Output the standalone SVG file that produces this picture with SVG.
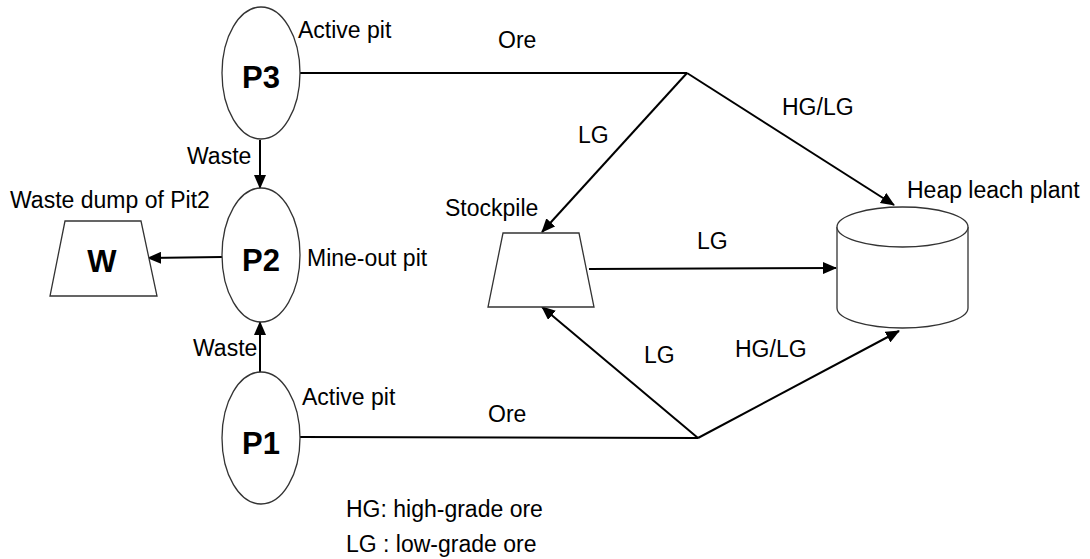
<svg xmlns="http://www.w3.org/2000/svg" width="1090" height="559" viewBox="0 0 1090 559">
<style>
text{font-family:"Liberation Sans",Arial,sans-serif;font-size:23px;fill:#000}
.big{font-size:31px;font-weight:bold;text-anchor:middle}
.shape{fill:#fff;stroke:#333;stroke-width:1.3}
.conn{stroke:#000;stroke-width:2;fill:none}
</style>
<defs>
<marker id="arr" markerUnits="userSpaceOnUse" markerWidth="14" markerHeight="12" refX="13" refY="6" orient="auto">
<path d="M0,0 L14,6 L0,12 z" fill="#000"/>
</marker>
</defs>
<rect width="1090" height="559" fill="#fff"/>
<g id="connectors">
<line class="conn" x1="300" y1="73" x2="687" y2="73"/>
<line class="conn" x1="687" y1="73" x2="542" y2="232" marker-end="url(#arr)"/>
<line class="conn" x1="687" y1="73" x2="894" y2="205" marker-end="url(#arr)"/>
<line class="conn" x1="300" y1="437" x2="698" y2="438"/>
<line class="conn" x1="698" y1="438" x2="542" y2="307" marker-end="url(#arr)"/>
<line class="conn" x1="698" y1="438" x2="899" y2="331" marker-end="url(#arr)"/>
<line class="conn" x1="589" y1="269" x2="836" y2="268" marker-end="url(#arr)"/>
<line class="conn" x1="260" y1="140" x2="260" y2="188" marker-end="url(#arr)"/>
<line class="conn" x1="260" y1="372" x2="260" y2="322" marker-end="url(#arr)"/>
<line class="conn" x1="222" y1="257" x2="148" y2="258" marker-end="url(#arr)"/>
<text x="498" y="48">Ore</text>
<text x="488" y="422">Ore</text>
<text x="578" y="143">LG</text>
<text x="782" y="115">HG/LG</text>
<text x="697" y="249">LG</text>
<text x="644" y="363">LG</text>
<text x="735" y="357">HG/LG</text>
<text x="187" y="164">Waste</text>
<text x="193" y="356">Waste</text>
</g>
<g id="P3">
<ellipse class="shape" cx="261" cy="73" rx="39" ry="66"/>
<text class="big" x="261" y="88">P3</text>
<text x="298" y="38">Active pit</text>
</g>
<g id="P2">
<ellipse class="shape" cx="261" cy="255" rx="39" ry="67"/>
<text class="big" x="261" y="271">P2</text>
<text x="307" y="266">Mine-out pit</text>
</g>
<g id="P1">
<ellipse class="shape" cx="261" cy="438" rx="39" ry="66"/>
<text class="big" x="261" y="454">P1</text>
<text x="302" y="405">Active pit</text>
</g>
<g id="W">
<polygon class="shape" points="65,221 141,221 157,296 50,296"/>
<text class="big" x="102" y="272">W</text>
<text x="10" y="208">Waste dump of Pit2</text>
</g>
<g id="stockpile">
<polygon class="shape" points="503,233 579,233 594,307 488,307"/>
<text x="445" y="216">Stockpile</text>
</g>
<g id="heap">
<path class="shape" d="M837,227 L837,308 A65.5,20 0 0 0 968,308 L968,227"/>
<ellipse class="shape" cx="902.5" cy="227" rx="65.5" ry="20"/>
<text x="907" y="198">Heap leach plant</text>
</g>
<g id="legend">
<text x="346" y="517">HG: high-grade ore</text>
<text x="346" y="552">LG : low-grade ore</text>
</g>
</svg>
